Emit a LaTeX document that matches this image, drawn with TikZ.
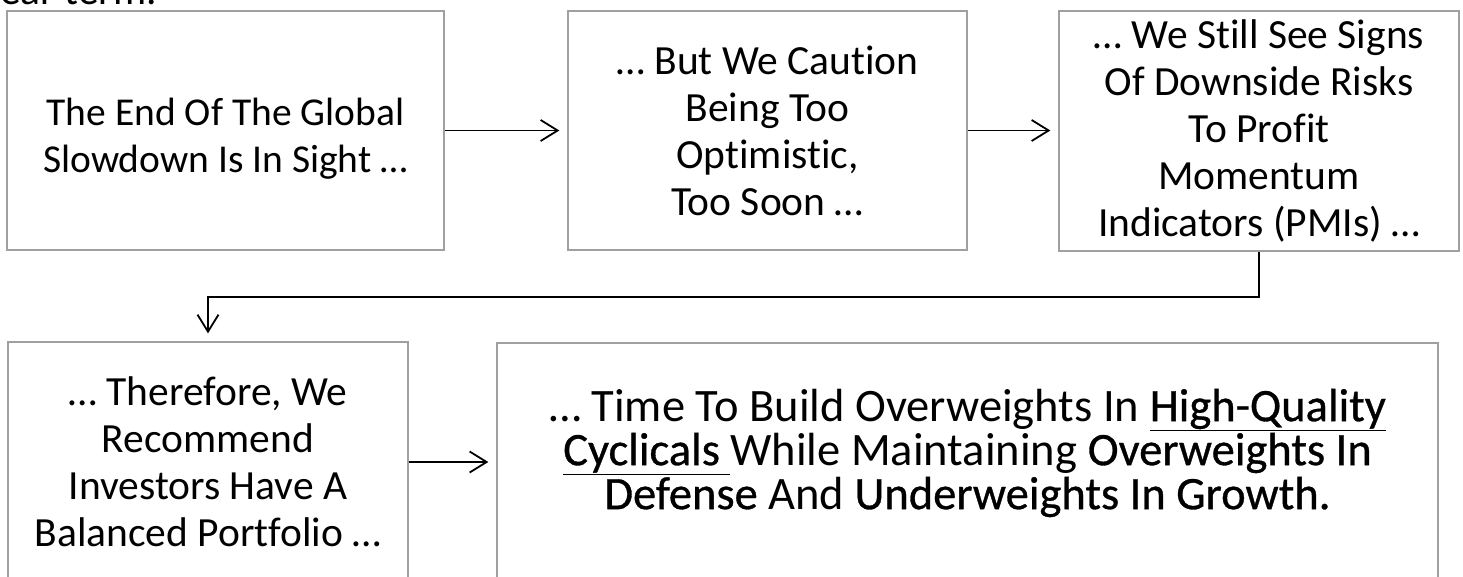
\documentclass[tikz,border=0pt]{standalone}
\usepackage{fontspec}
\setmainfont[Ligatures=NoCommon]{Carlito}
\newfontfamily\strongfont[FakeBold=0.7,Ligatures=NoCommon]{Carlito}
\usetikzlibrary{arrows.meta}
\usetikzlibrary{calc}

\definecolor{boxgray}{RGB}{160,160,160}
\newcommand{\stronger}[1]{{\strongfont #1}}
\newcommand{\ulstrong}[1]{\underline{\strongfont #1}}

\begin{document}
\begin{tikzpicture}[x=1pt, y=-1pt,
        stage_style/.style={rectangle, draw=boxgray, line width=1.3pt, align=center, inner sep=0pt, font=\fontsize{41.5}{47}\selectfont},
        text_style/.style={align=center, inner sep=0pt, font=\fontsize{39.5}{47}\selectfont},
        note_style/.style={align=center, inner sep=0pt, font=\fontsize{46.5}{44}\selectfont},
        edge_style/.style={draw=black, line width=1.8pt, shorten >=8pt, -{Straight Barb[length=17pt,width=21pt]}}]

        \useasboundingbox (0,0) rectangle (1463,576);
        \clip (0,0) rectangle (1463,576);

        \node [anchor=base west, inner sep=0pt, font=\fontsize{41.5}{47}\selectfont] (lead) at (0,4) {ear term.};

        \node [stage_style, minimum width=437pt, minimum height=239pt] (s1) at (225.5,130.5) {};
        \node [text_style] (s1text) at (225.5,139) {The End Of The Global\\Slowdown Is In Sight …};

        \node [stage_style, minimum width=399pt, minimum height=239pt] (s2) at (767.5,130.5) {… But We Caution\\Being Too\\Optimistic,\\Too Soon …};

        \node [stage_style, minimum width=400pt, minimum height=240pt] (s3) at (1259,131) {… We Still See Signs\\Of Downside Risks\\To Profit\\Momentum\\Indicators (PMIs) …};

        \node [stage_style, minimum width=400pt, minimum height=240pt] (s4) at (208,462) {… Therefore, We\\Recommend\\Investors Have A\\Balanced Portfolio …};

        \node [stage_style, minimum width=941pt, minimum height=240pt] (s5) at (967.5,463) {};
        \node [note_style] (s5text) at (967.5,453) {… Time To Build Overweights In \ulstrong{High-Quality}\\\ulstrong{Cyclicals }While Maintaining \stronger{Overweights In}\\\stronger{Defense} And \stronger{Underweights In Growth.}};

        \draw [edge_style] (s1) -- (s2);

        \draw [edge_style] (s2.east) -- (s2.east -| s3.west);

        \draw [edge_style] (s3.south) -- ++(0,45) -| (s4.north);

        \draw [edge_style] (s4.east) -- (s4.east -| s5.west);

\end{tikzpicture}
\end{document}
